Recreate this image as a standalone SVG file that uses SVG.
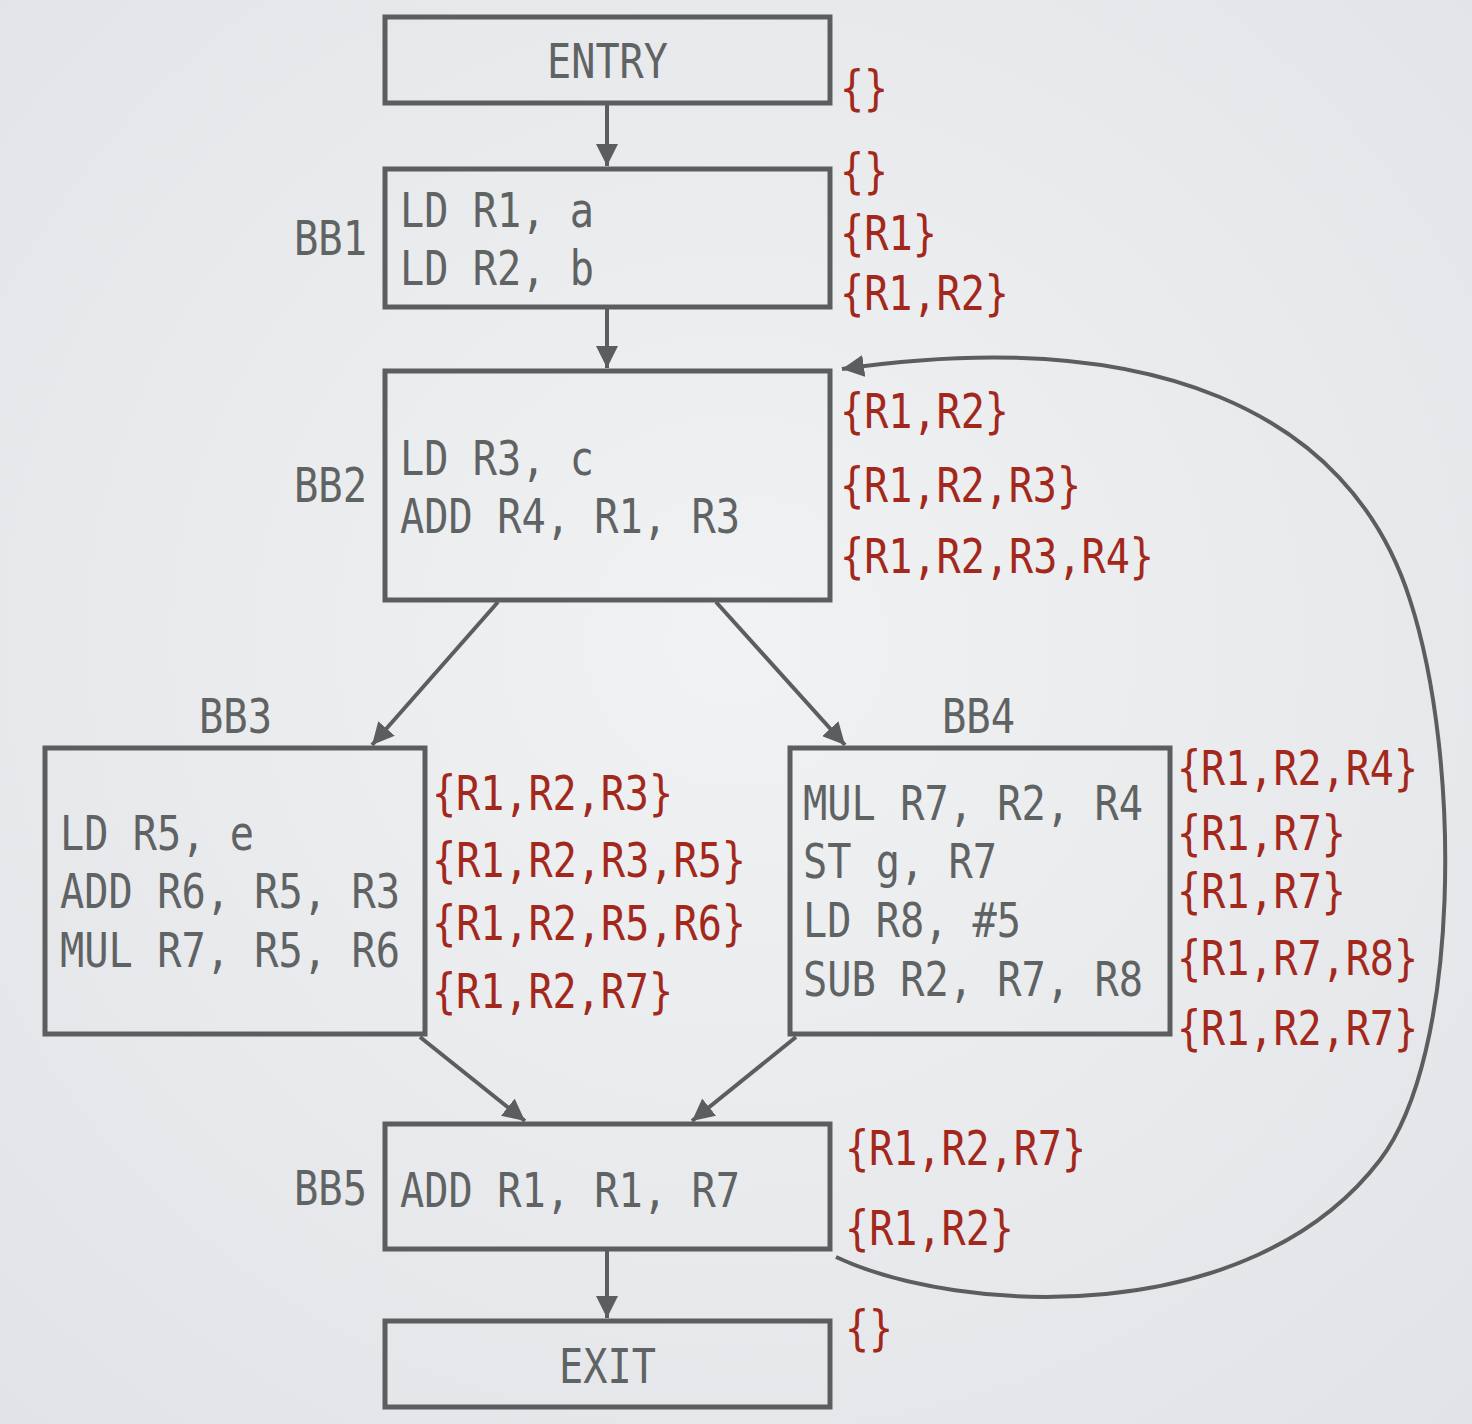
<svg xmlns="http://www.w3.org/2000/svg" width="1472" height="1424" viewBox="0 0 1472 1424">
  <defs>
    <radialGradient id="bg" cx="50%" cy="45%" r="75%">
      <stop offset="0" stop-color="#f1f2f4"/>
      <stop offset="1" stop-color="#e2e3e6"/>
    </radialGradient>
    <marker id="arrow" viewBox="0 0 10 10" refX="10" refY="5" markerWidth="22" markerHeight="22" markerUnits="userSpaceOnUse" orient="auto">
      <path d="M0,0 L10,5 L0,10 z" fill="#5a5e5e"/>
    </marker>
    <style>
      .box { fill: none; stroke: #5a5e5e; stroke-width: 5; }
      .code { font-family: "DejaVu Sans Mono", "Liberation Mono", monospace; font-size: 48px; fill: #5f6363; }
      .set { font-family: "DejaVu Sans Mono", "Liberation Mono", monospace; font-size: 48px; fill: #a3281c; }
      .edge { fill: none; stroke: #5a5e5e; stroke-width: 4; marker-end: url(#arrow); }
    </style>
  </defs>

  <rect x="0" y="0" width="1472" height="1424" fill="url(#bg)"/>

  <!-- control-flow edges -->
  <g id="edges">
    <line class="edge" x1="607" y1="105" x2="607" y2="166"/>
    <line class="edge" x1="607" y1="308" x2="607" y2="368"/>
    <line class="edge" x1="498" y1="602" x2="372" y2="745"/>
    <line class="edge" x1="716" y1="602" x2="845" y2="745"/>
    <line class="edge" x1="420" y1="1037" x2="525" y2="1121"/>
    <line class="edge" x1="796" y1="1037" x2="692" y2="1121"/>
    <line class="edge" x1="607" y1="1251" x2="607" y2="1318"/>
    <path class="edge" d="M836,1257 C960,1315 1250,1330 1380,1160 C1460,1055 1462,760 1410,600 C1350,410 1150,325 842,369"/>
  </g>

  <g id="entry">
    <rect class="box" x="385" y="17" width="445" height="86"/>
    <text class="code" x="547" y="78" textLength="121" lengthAdjust="spacingAndGlyphs">ENTRY</text>
    <text class="set" x="840" y="105" textLength="48" lengthAdjust="spacingAndGlyphs">{}</text>
  </g>

  <g id="bb1">
    <rect class="box" x="385" y="169" width="445" height="138"/>
    <text class="code" x="294" y="255" textLength="73" lengthAdjust="spacingAndGlyphs">BB1</text>
    <text class="code" x="400" y="227" textLength="194" lengthAdjust="spacingAndGlyphs">LD R1, a</text>
    <text class="code" x="400" y="285" textLength="194" lengthAdjust="spacingAndGlyphs">LD R2, b</text>
    <text class="set" x="840" y="188" textLength="48" lengthAdjust="spacingAndGlyphs">{}</text>
    <text class="set" x="840" y="250" textLength="97" lengthAdjust="spacingAndGlyphs">{R1}</text>
    <text class="set" x="840" y="310" textLength="169" lengthAdjust="spacingAndGlyphs">{R1,R2}</text>
  </g>

  <g id="bb2">
    <rect class="box" x="385" y="371" width="445" height="229"/>
    <text class="code" x="294" y="502" textLength="73" lengthAdjust="spacingAndGlyphs">BB2</text>
    <text class="code" x="400" y="475" textLength="194" lengthAdjust="spacingAndGlyphs">LD R3, c</text>
    <text class="code" x="400" y="533" textLength="340" lengthAdjust="spacingAndGlyphs">ADD R4, R1, R3</text>
    <text class="set" x="840" y="428" textLength="169" lengthAdjust="spacingAndGlyphs">{R1,R2}</text>
    <text class="set" x="840" y="502" textLength="241" lengthAdjust="spacingAndGlyphs">{R1,R2,R3}</text>
    <text class="set" x="840" y="573" textLength="314" lengthAdjust="spacingAndGlyphs">{R1,R2,R3,R4}</text>
  </g>

  <g id="bb3">
    <rect class="box" x="45" y="748" width="380" height="286"/>
    <text class="code" x="199" y="733" textLength="73" lengthAdjust="spacingAndGlyphs">BB3</text>
    <text class="code" x="60" y="850" textLength="194" lengthAdjust="spacingAndGlyphs">LD R5, e</text>
    <text class="code" x="60" y="908" textLength="340" lengthAdjust="spacingAndGlyphs">ADD R6, R5, R3</text>
    <text class="code" x="60" y="967" textLength="340" lengthAdjust="spacingAndGlyphs">MUL R7, R5, R6</text>
    <text class="set" x="432" y="810" textLength="241" lengthAdjust="spacingAndGlyphs">{R1,R2,R3}</text>
    <text class="set" x="432" y="877" textLength="314" lengthAdjust="spacingAndGlyphs">{R1,R2,R3,R5}</text>
    <text class="set" x="432" y="940" textLength="314" lengthAdjust="spacingAndGlyphs">{R1,R2,R5,R6}</text>
    <text class="set" x="432" y="1008" textLength="241" lengthAdjust="spacingAndGlyphs">{R1,R2,R7}</text>
  </g>

  <g id="bb4">
    <rect class="box" x="790" y="748" width="380" height="286"/>
    <text class="code" x="942" y="733" textLength="73" lengthAdjust="spacingAndGlyphs">BB4</text>
    <text class="code" x="803" y="820" textLength="340" lengthAdjust="spacingAndGlyphs">MUL R7, R2, R4</text>
    <text class="code" x="803" y="878" textLength="194" lengthAdjust="spacingAndGlyphs">ST g, R7</text>
    <text class="code" x="803" y="937" textLength="218" lengthAdjust="spacingAndGlyphs">LD R8, #5</text>
    <text class="code" x="803" y="996" textLength="340" lengthAdjust="spacingAndGlyphs">SUB R2, R7, R8</text>
    <text class="set" x="1177" y="785" textLength="241" lengthAdjust="spacingAndGlyphs">{R1,R2,R4}</text>
    <text class="set" x="1177" y="850" textLength="169" lengthAdjust="spacingAndGlyphs">{R1,R7}</text>
    <text class="set" x="1177" y="908" textLength="169" lengthAdjust="spacingAndGlyphs">{R1,R7}</text>
    <text class="set" x="1177" y="975" textLength="241" lengthAdjust="spacingAndGlyphs">{R1,R7,R8}</text>
    <text class="set" x="1177" y="1045" textLength="241" lengthAdjust="spacingAndGlyphs">{R1,R2,R7}</text>
  </g>

  <g id="bb5">
    <rect class="box" x="385" y="1124" width="445" height="125"/>
    <text class="code" x="294" y="1205" textLength="73" lengthAdjust="spacingAndGlyphs">BB5</text>
    <text class="code" x="400" y="1207" textLength="340" lengthAdjust="spacingAndGlyphs">ADD R1, R1, R7</text>
    <text class="set" x="845" y="1165" textLength="241" lengthAdjust="spacingAndGlyphs">{R1,R2,R7}</text>
    <text class="set" x="845" y="1245" textLength="169" lengthAdjust="spacingAndGlyphs">{R1,R2}</text>
  </g>

  <g id="exit">
    <rect class="box" x="385" y="1321" width="445" height="86"/>
    <text class="code" x="559" y="1383" textLength="97" lengthAdjust="spacingAndGlyphs">EXIT</text>
    <text class="set" x="845" y="1345" textLength="48" lengthAdjust="spacingAndGlyphs">{}</text>
  </g>
</svg>
